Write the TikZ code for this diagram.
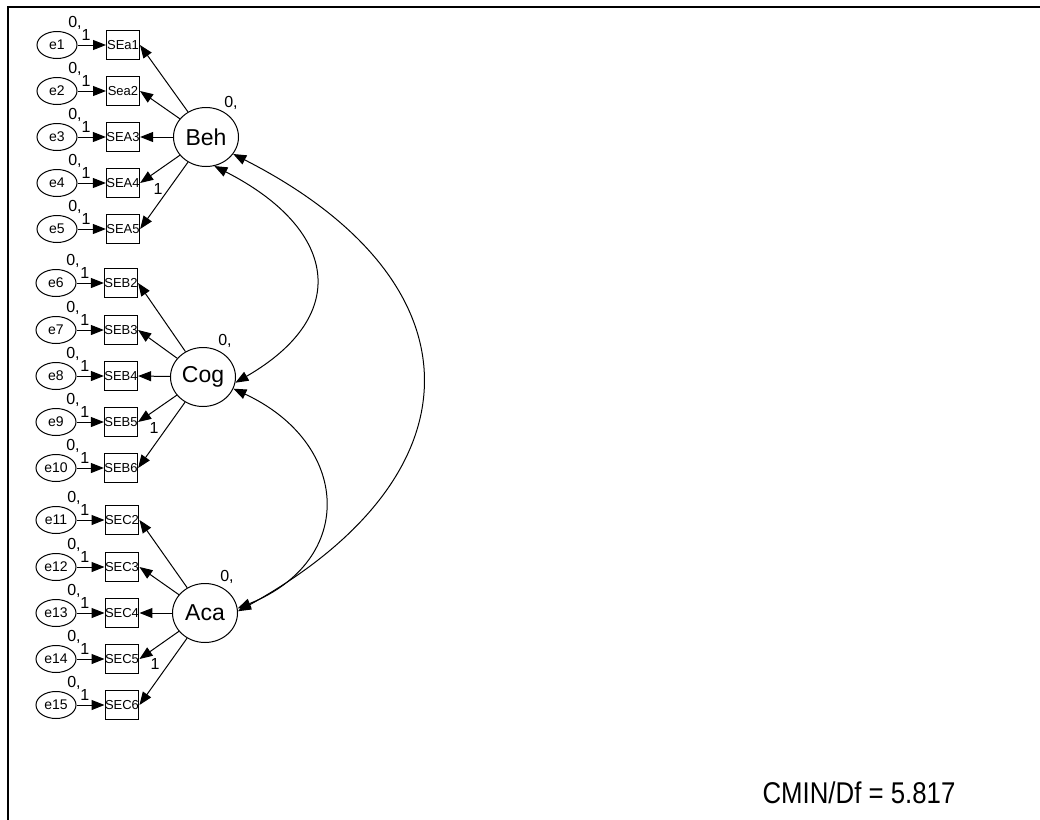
\documentclass[tikz,border=0pt]{standalone}
\usepackage{fontspec}
\setmainfont{Liberation Sans}
\newfontfamily\narrowfont[FakeStretch=0.86]{Liberation Sans}
\usetikzlibrary{arrows.meta,shapes.geometric}

\begin{document}
\begin{tikzpicture}[
        x = 0.5pt, y = 0.5pt,
        line width = 0.5pt,
        > = {Triangle[length = 6.5pt, width = 5pt]},
        err/.style = {draw, ellipse, inner sep = 0pt, minimum width = 20pt, minimum height = 13.5pt, font = \fontsize{7}{8}\selectfont},
        item/.style = {draw, rectangle, inner sep = 0pt, minimum width = 16.5pt, minimum height = 14.5pt, font = \fontsize{6.5}{7}\selectfont},
        latent/.style = {draw, ellipse, inner sep = 0pt, minimum width = 32.5pt, minimum height = 29.5pt, font = \fontsize{11.5}{13}\selectfont},
        est/.style = {inner sep = 0pt, font = \fontsize{8}{9}\selectfont},
        fixed/.style = {est, pos = 0.3, above = 2pt}
      ]
      \useasboundingbox (0, 0) rectangle (1040, -820);
      % frame
      \draw[line width = 1pt] (8, -820) -- (8, -7) -- (1040, -7);
      % error terms
      \node[err] (e1)  at (57,  -45) {e1};
      \node[err] (e2)  at (57,  -91) {e2};
      \node[err] (e3)  at (57, -137) {e3};
      \node[err] (e4)  at (57, -183) {e4};
      \node[err] (e5)  at (57, -229) {e5};
      \node[err] (e6)  at (56, -283) {e6};
      \node[err] (e7)  at (56, -330) {e7};
      \node[err] (e8)  at (56, -376) {e8};
      \node[err] (e9)  at (56, -422) {e9};
      \node[err] (e10) at (56, -468) {e10};
      \node[err] (e11) at (56, -520) {e11};
      \node[err] (e12) at (56, -567) {e12};
      \node[err] (e13) at (56, -613) {e13};
      \node[err] (e14) at (56, -659) {e14};
      \node[err] (e15) at (56, -705) {e15};
      % observed items
      \node[item] (SEa1) at (123,  -45) {SEa1};
      \node[item] (Sea2) at (123,  -91) {Sea2};
      \node[item] (SEA3) at (123, -137) {SEA3};
      \node[item] (SEA4) at (123, -183) {SEA4};
      \node[item] (SEA5) at (123, -229) {SEA5};
      \node[item] (SEB2) at (121, -283) {SEB2};
      \node[item] (SEB3) at (121, -330) {SEB3};
      \node[item] (SEB4) at (121, -376) {SEB4};
      \node[item] (SEB5) at (121, -422) {SEB5};
      \node[item] (SEB6) at (121, -468) {SEB6};
      \node[item] (SEC2) at (122, -520) {SEC2};
      \node[item] (SEC3) at (122, -567) {SEC3};
      \node[item] (SEC4) at (122, -613) {SEC4};
      \node[item] (SEC5) at (122, -659) {SEC5};
      \node[item] (SEC6) at (122, -705) {SEC6};
      % latent factors
      \node[latent] (Beh) at (206, -137) {Beh};
      \node[latent] (Cog) at (203, -377) {Cog};
      \node[latent] (Aca) at (205, -613) {Aca};
      % means and variances
      \node[est] (v1)  at (75,  -23) {0,};
      \node[est] (v2)  at (75,  -69) {0,};
      \node[est] (v3)  at (75, -115) {0,};
      \node[est] (v4)  at (75, -161) {0,};
      \node[est] (v5)  at (75, -207) {0,};
      \node[est] (v6)  at (73, -261) {0,};
      \node[est] (v7)  at (73, -308) {0,};
      \node[est] (v8)  at (73, -354) {0,};
      \node[est] (v9)  at (73, -400) {0,};
      \node[est] (v10) at (73, -446) {0,};
      \node[est] (v11) at (74, -498) {0,};
      \node[est] (v12) at (74, -545) {0,};
      \node[est] (v13) at (74, -591) {0,};
      \node[est] (v14) at (74, -637) {0,};
      \node[est] (v15) at (74, -683) {0,};
      \node[est] (vBeh) at (231, -103) {0,};
      \node[est] (vCog) at (225, -341) {0,};
      \node[est] (vAca) at (227, -577) {0,};
      % error paths
      \draw[->] (e1)  -- node[fixed] (f1)  {1} (SEa1);
      \draw[->] (e2)  -- node[fixed] (f2)  {1} (Sea2);
      \draw[->] (e3)  -- node[fixed] (f3)  {1} (SEA3);
      \draw[->] (e4)  -- node[fixed] (f4)  {1} (SEA4);
      \draw[->] (e5)  -- node[fixed] (f5)  {1} (SEA5);
      \draw[->] (e6)  -- node[fixed] (f6)  {1} (SEB2);
      \draw[->] (e7)  -- node[fixed] (f7)  {1} (SEB3);
      \draw[->] (e8)  -- node[fixed] (f8)  {1} (SEB4);
      \draw[->] (e9)  -- node[fixed] (f9)  {1} (SEB5);
      \draw[->] (e10) -- node[fixed] (f10) {1} (SEB6);
      \draw[->] (e11) -- node[fixed] (f11) {1} (SEC2);
      \draw[->] (e12) -- node[fixed] (f12) {1} (SEC3);
      \draw[->] (e13) -- node[fixed] (f13) {1} (SEC4);
      \draw[->] (e14) -- node[fixed] (f14) {1} (SEC5);
      \draw[->] (e15) -- node[fixed] (f15) {1} (SEC6);
      % loadings
      \draw[->] (Beh) -- (SEa1.east);
      \draw[->] (Beh) -- (Sea2.east);
      \draw[->] (Beh) -- (SEA3.east);
      \draw[->] (Beh) -- (SEA4.east);
      \draw[->] (Beh) -- (SEA5.east);
      \draw[->] (Cog) -- (SEB2.east);
      \draw[->] (Cog) -- (SEB3.east);
      \draw[->] (Cog) -- (SEB4.east);
      \draw[->] (Cog) -- (SEB5.east);
      \draw[->] (Cog) -- (SEB6.east);
      \draw[->] (Aca) -- (SEC2.east);
      \draw[->] (Aca) -- (SEC3.east);
      \draw[->] (Aca) -- (SEC4.east);
      \draw[->] (Aca) -- (SEC5.east);
      \draw[->] (Aca) -- (SEC6.east);
      \node[est] (lBeh) at (158, -189) {1};
      \node[est] (lCog) at (154, -428) {1};
      \node[est] (lAca) at (155, -664) {1};
      % covariances
      \draw[<->] (Beh.-74) to[out = -27, in = 30, looseness = 1.6]  (Cog.-10);
      \draw[<->] (Beh.-32) to[out = -27, in = 29, looseness = 1.57] (Aca.3);
      \draw[<->] (Cog.-21) to[out = -25, in = 22, looseness = 1.5]  (Aca.8);
      % fit
      \node[inner sep = 0pt, font = \narrowfont\fontsize{15}{18}\selectfont] (fit) at (859, -793) {CMIN/Df = 5.817};
    \end{tikzpicture}
\end{document}
